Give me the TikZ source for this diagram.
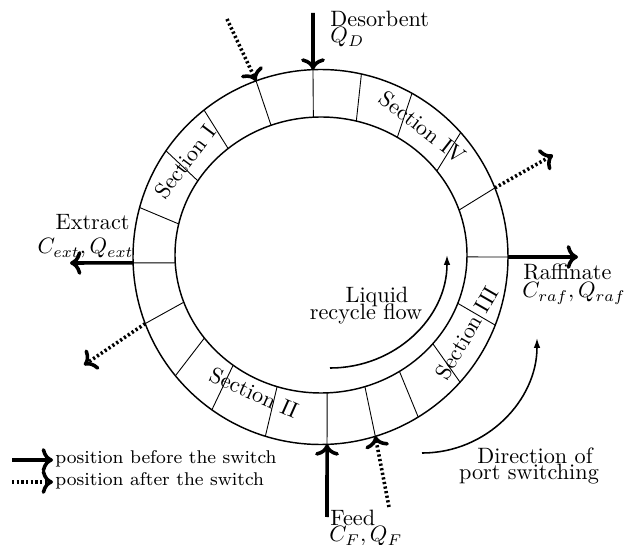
\documentclass[tikz,border=0pt]{standalone}
\usetikzlibrary{arrows.meta}
\begin{document}
\begin{tikzpicture}[x=0.45pt,y=-0.45pt,
  ringline/.style={line width=0.65pt},
  radline/.style={line width=0.4pt},
  portarrow/.style={->, line width=1.6pt},
  afterarrow/.style={->, line width=1.6pt, dash pattern=on 1pt off 1.1pt},
  flowarrow/.style={-{Latex[length=4.5pt,width=3pt]}, line width=0.7pt},
  lbl/.style={inner sep=0pt},
  legendtext/.style={inner sep=0pt, anchor=base west, font=\fontsize{8.3}{10}\selectfont}]
\useasboundingbox (0,0) rectangle (630,545);
\coordinate (OC) at (320.5,257);
\coordinate (IC) at (321,255);
\draw[ringline] (OC) circle[radius=187.5];
\draw[ringline] (IC) ellipse[x radius=146, y radius=138];
\foreach \n/\a/\b in {1/0/0.8, 2/-21.6/-19, 3/-41.6/-37.5, 4/-60.8/-58.5, 5/-77.4/-76,
  6/-92.3/-93, 7/-110.1/-110, 8/-128.4/-129.5, 9/-145.5/-147.5, 10/-164.7/-167,
  11/178.2/176.7, 12/159.2/160, 13/140.7/143, 14/125.4/127, 15/107.1/107.5,
  16/88/87.6, 17/73/72.5, 18/58.6/57.5, 19/41.9/40, 20/21.3/20.5} {
  \coordinate (o\n) at ([shift={(\a:187.5)}]OC);
  \coordinate (i\n) at ([shift={(\b:146 and 138)}]IC);
  \draw[radline] (o\n) -- (i\n);
}
% ports before the switch
\coordinate (dstart) at (313,13);
\draw[portarrow] (dstart) -- (o6);
\coordinate (eend) at (70,263);
\draw[portarrow] (o11) -- (eend);
\coordinate (rend) at (578,257);
\draw[portarrow] (o1) -- (rend);
\coordinate (fstart) at (327,517);
\draw[portarrow] (fstart) -- (o16);
% ports after the switch
\coordinate (dnew) at (227,19);
\draw[afterarrow] (dnew) -- (o7);
\coordinate (rnew) at (553,155);
\draw[afterarrow] (o2) -- (rnew);
\coordinate (enew) at (84,365);
\draw[afterarrow] (o12) -- (enew);
\coordinate (fnew) at (389,507);
\draw[afterarrow] (fnew) -- (o17);
% labels
\node[lbl, anchor=base west] (des) at (330,27) {Desorbent};
\node[lbl, anchor=base west] (qd) at (330,43) {$Q_D$};
\node[lbl, anchor=base east] (ext) at (130,230) {Extract};
\node[lbl, anchor=base east] (cext) at (134,254) {$C_{ext},Q_{ext}$};
\node[lbl, anchor=base west] (raf) at (523,280) {Raffinate};
\node[lbl, anchor=base west] (craf) at (522,298) {$C_{raf},Q_{raf}$};
\node[lbl, anchor=base west] (feed) at (330,525) {Feed};
\node[lbl, anchor=base west] (cf) at (329,542) {$C_F,Q_F$};
\node[lbl, anchor=base] (liq) at (377,303) {Liquid};
\node[lbl, anchor=base] (rec) at (366,320) {recycle flow};
\node[lbl, anchor=base] (dir) at (535,463) {Direction of};
\node[lbl, anchor=base] (psw) at (529,480) {port switching};
% sections
\node[lbl, rotate=53] (s1) at (185,162) {Section I};
\node[lbl, rotate=-38] (s4) at (423,127) {Section IV};
\node[lbl, rotate=60] (s3) at (467,333) {Section III};
\node[lbl, rotate=-24] (s2) at (254,393) {Section II};
% flow arrows
\coordinate (lfs) at (330,368);
\coordinate (lfe) at (447,255);
\draw[flowarrow] (lfs) .. controls (395,368) and (447,318) .. (lfe);
\coordinate (pss) at (422,453);
\coordinate (pse) at (537,338);
\draw[flowarrow] (pss) .. controls (487,453) and (537,400) .. (pse);
% legend
\coordinate (l1a) at (12,460);
\coordinate (l1b) at (53,460);
\draw[portarrow] (l1a) -- (l1b);
\node[legendtext] (lt1) at (55,463) {position before the switch};
\coordinate (l2a) at (12,482);
\coordinate (l2b) at (53,482);
\draw[afterarrow] (l2a) -- (l2b);
\node[legendtext] (lt2) at (55,486) {position after the switch};
\end{tikzpicture}
\end{document}
